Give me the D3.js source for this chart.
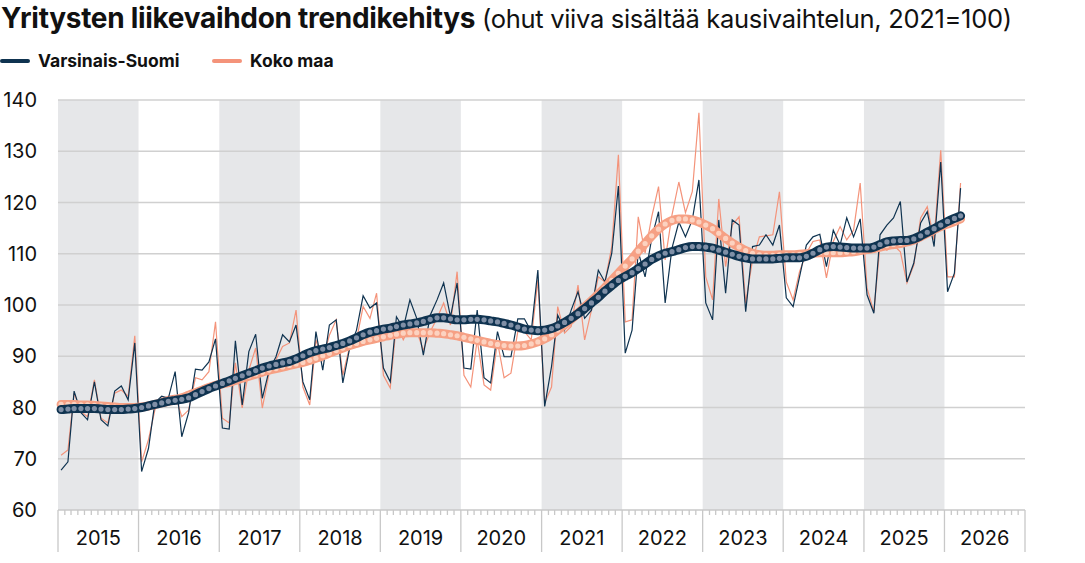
<!DOCTYPE html>
<html><head><meta charset="utf-8">
<script src="https://cdn.jsdelivr.net/npm/d3@7"></script>
<style>body{margin:0;background:#fff;font-family:Inter,"Noto Sans",sans-serif}</style>
</head><body><svg id="c" width="1085" height="563"></svg>
<script>
// Monthly data Jan 2015 .. Mar 2026 (2021=100)
var vsRaw = [
  67.8,69.4,83.2,79,77.6,85,77.6,76.4,83.2,84.2,81.5,92.6,
  67.5,72,80.9,82.2,81.8,87,74.3,79,87.5,87.3,88.9,93.4,
  76,75.8,93,80.5,90.9,94.3,81.8,87.3,89.9,94.2,92.8,96.1,
  85,81.5,94.8,87.3,96.1,97.1,84.8,91.6,95.1,101.8,99.4,100.4,
  87.7,85,97.7,95.5,101,97.4,90.2,98,101,104.3,97.7,104.3,
  87.7,87.5,99,85.8,84.8,94.8,89.9,89.9,97.3,97.3,94.8,106.8,
  80.2,88,98,95.1,99,102.6,97.4,99,106.8,104.5,110.1,123.2,
  90.6,95.1,110.4,105.5,113,118.2,100.4,111.1,116.2,113.3,116.6,124.4,
  100.4,97.1,116.6,102.3,116.6,115.6,98.7,111.4,111.7,113.7,111.7,115.6,
  101.4,99.7,105.5,111.7,113.3,113.8,107.5,114.6,111.7,117,113.3,116.8,
  102,98.4,113.7,115.6,117,120.2,104.5,108.2,116,118.2,111.4,127.9,
  102.6,106.2,122.8];
var kmRaw = [
  70.7,71.7,82.8,79.2,78.2,85.4,77.9,77,82.8,83.4,82.2,94,
  69.4,73.7,79.5,81.8,82.2,82.4,78.2,79.5,85.8,85.4,87,96.7,
  77.9,77,88.7,79.9,87.3,91.6,79.9,86.7,89.3,91.9,92.6,99,
  84,80.5,93.2,89.3,94.1,97.1,86.3,91.9,93.2,99.7,97.4,102.3,
  86.3,83.8,96.5,93.2,95.8,94.8,91.2,94.8,97.4,100.4,96.1,106.5,
  86.3,84,93.2,84.4,83.4,92.8,85.8,86.7,94.8,94.8,93.2,104.9,
  80.9,84,99.7,94.5,95.8,103.9,93.2,99,105.5,104.5,111.4,129.3,
  96.7,97.1,117.2,110.1,117.2,123.1,108.8,117.6,124,118,122.1,137.5,
  105.5,101,120.7,107.5,115.6,117.2,100.4,108.8,113.3,113.5,113.7,122.1,
  104.5,101,106.5,110.1,112.4,112.7,105.3,112.4,115.3,112.7,114.6,123.8,
  103.3,98.7,111.7,110.7,111.7,110.4,104.3,107.8,117,119.2,112.7,130.2,
  105.5,105.5,123.8];
var vsTrend = [
  79.6,79.7,79.8,79.8,79.8,79.8,79.7,79.6,79.6,79.6,79.7,79.8,
  80.0,80.3,80.6,80.9,81.2,81.4,81.6,81.9,82.5,83.1,83.7,84.2,
  84.7,85.2,85.7,86.2,86.7,87.2,87.7,88.1,88.4,88.7,89.0,89.5,
  90.1,90.7,91.1,91.4,91.7,92.1,92.5,93.0,93.6,94.2,94.7,95.0,
  95.3,95.5,95.8,96.1,96.3,96.5,96.8,97.2,97.5,97.5,97.3,97.1,
  97.1,97.2,97.2,97.1,96.9,96.7,96.4,96.1,95.7,95.3,95.1,95.0,
  95.1,95.4,95.9,96.6,97.4,98.3,99.3,100.4,101.5,102.7,103.8,104.8,
  105.6,106.3,107.1,108.0,108.9,109.6,110.1,110.4,110.8,111.2,111.4,111.4,
  111.3,111.1,110.7,110.3,109.9,109.5,109.2,109.0,109.0,109.0,109.0,109.1,
  109.2,109.2,109.2,109.5,110.1,110.8,111.3,111.4,111.3,111.2,111.1,111.1,
  111.1,111.3,111.8,112.3,112.5,112.6,112.6,112.9,113.5,114.2,114.9,115.6,
  116.3,116.9,117.4];
var kmTrend = [
  80.6,80.6,80.6,80.5,80.5,80.4,80.3,80.2,80.1,80.0,80.0,80.0,
  80.1,80.3,80.6,80.9,81.2,81.5,81.9,82.4,82.9,83.4,83.9,84.3,
  84.6,84.9,85.3,85.7,86.1,86.5,86.9,87.3,87.6,87.9,88.2,88.5,
  88.8,89.2,89.6,90.1,90.6,91.1,91.6,92.1,92.5,92.9,93.2,93.5,
  93.8,94.1,94.3,94.5,94.6,94.6,94.6,94.6,94.5,94.4,94.2,94.0,
  93.7,93.4,93.1,92.8,92.5,92.3,92.1,92.0,92.0,92.1,92.4,92.8,
  93.4,94.2,95.1,96.1,97.2,98.4,99.6,100.8,102.1,103.4,104.8,106.2,
  107.6,109.0,110.5,112.0,113.5,114.8,115.8,116.5,116.8,116.8,116.6,116.2,
  115.6,114.9,114.0,113.0,112.1,111.3,110.6,110.1,109.8,109.7,109.7,109.8,
  109.8,109.8,109.9,110.0,110.1,110.2,110.2,110.2,110.2,110.3,110.4,110.6,
  110.8,111.0,111.3,111.6,111.8,112.0,112.3,112.7,113.3,114.0,114.7,115.3,
  115.8,116.3,116.8];
var years = [2015,2016,2017,2018,2019,2020,2021,2022,2023,2024,2025,2026];
var yTicks = [60,70,80,90,100,110,120,130,140];

var months = vsRaw.map((d,i) => new Date(2015, i, 15));

var svg = d3.select('#c');
var x = d3.scaleTime().domain([new Date(2015,0,1), new Date(2027,0,1)]).range([58,1025]);
var y = d3.scaleLinear().domain([60,140]).range([510,100]);

// Title
var t = svg.append('text').attr('x',1).attr('y',28).attr('fill','#111').attr('letter-spacing',-0.3);
t.append('tspan').attr('font-weight',700).attr('font-size',28).text('Yritysten liikevaihdon trendikehitys');
t.append('tspan').attr('font-weight',400).attr('font-size',25.5).text(' (ohut viiva sisältää kausivaihtelun, 2021=100)');

// Legend
var legend = [['Varsinais-Suomi','#0f3350',2],['Koko maa','#f4937a',214]];
legend.forEach(l => {
  svg.append('line').attr('x1',l[2]).attr('x2',l[2]+26).attr('y1',61).attr('y2',61)
    .attr('stroke',l[1]).attr('stroke-width',4).attr('stroke-linecap','round');
  svg.append('text').attr('x',l[2]+36).attr('y',67).attr('font-size',17.5).attr('font-weight',700)
    .attr('fill','#111').text(l[0]);
});

// Year bands
svg.selectAll('rect.band').data(years.filter((d,i) => i%2==0)).enter().append('rect')
  .attr('x', d => x(new Date(d,0,1))).attr('width', d => x(new Date(d+1,0,1)) - x(new Date(d,0,1)))
  .attr('y', 100).attr('height', 410).attr('fill','#e6e7e9');

// Grid
svg.selectAll('line.grid').data(yTicks.slice(1)).enter().append('line')
  .attr('x1',58).attr('x2',1025).attr('y1',d=>y(d)).attr('y2',d=>y(d))
  .attr('stroke','#d0d0d0').attr('stroke-width',1.5);
svg.selectAll('text.yl').data(yTicks).enter().append('text')
  .attr('x',37).attr('y',d=>y(d)+7).attr('text-anchor','end').attr('font-size',20).attr('fill','#111')
  .text(d=>d);

// X axis
svg.append('line').attr('x1',58).attr('x2',1025).attr('y1',510).attr('y2',510).attr('stroke','#c8c8c8').attr('stroke-width',1.5);
var allMonths = d3.timeMonth.range(new Date(2015,0,1), new Date(2027,0,1));
svg.selectAll('line.mt').data(allMonths).enter().append('line')
  .attr('x1',d=>x(d)).attr('x2',d=>x(d)).attr('y1',510).attr('y2',d=>d.getMonth()==0?552:515)
  .attr('stroke','#c8c8c8').attr('stroke-width',1.3);
svg.append('line').attr('x1',1025).attr('x2',1025).attr('y1',510).attr('y2',552).attr('stroke','#c8c8c8').attr('stroke-width',1.3);
svg.selectAll('text.xl').data(years).enter().append('text')
  .attr('x',d=>(x(new Date(d,0,1))+x(new Date(d+1,0,1)))/2).attr('y',545)
  .attr('text-anchor','middle').attr('font-size',20).attr('fill','#111').text(d=>d);

// Lines
var line = d3.line().x((d,i)=>x(months[i])).y(d=>y(d)).curve(d3.curveMonotoneX);
var rawLine = d3.line().x((d,i)=>x(months[i])).y(d=>y(d));
svg.append('path').attr('d',rawLine(kmRaw)).attr('fill','none').attr('stroke','#f4937a').attr('stroke-width',1.2);
svg.append('path').attr('d',rawLine(vsRaw)).attr('fill','none').attr('stroke','#0f3350').attr('stroke-width',1.2);

function trend(data, col, dot) {
  svg.append('path').attr('d',line(data)).attr('fill','none').attr('stroke',col).attr('stroke-width',9).attr('stroke-linecap','round');
  svg.append('g').selectAll('circle').data(data).enter().append('circle')
    .attr('cx',(d,i)=>x(months[i])).attr('cy',d=>y(d)).attr('r',2.6).attr('fill',dot);
}
trend(kmTrend,'#f6a084','#fcd2c0');
trend(vsTrend,'#0f3350','#7f8fa6');
</script></body></html>
